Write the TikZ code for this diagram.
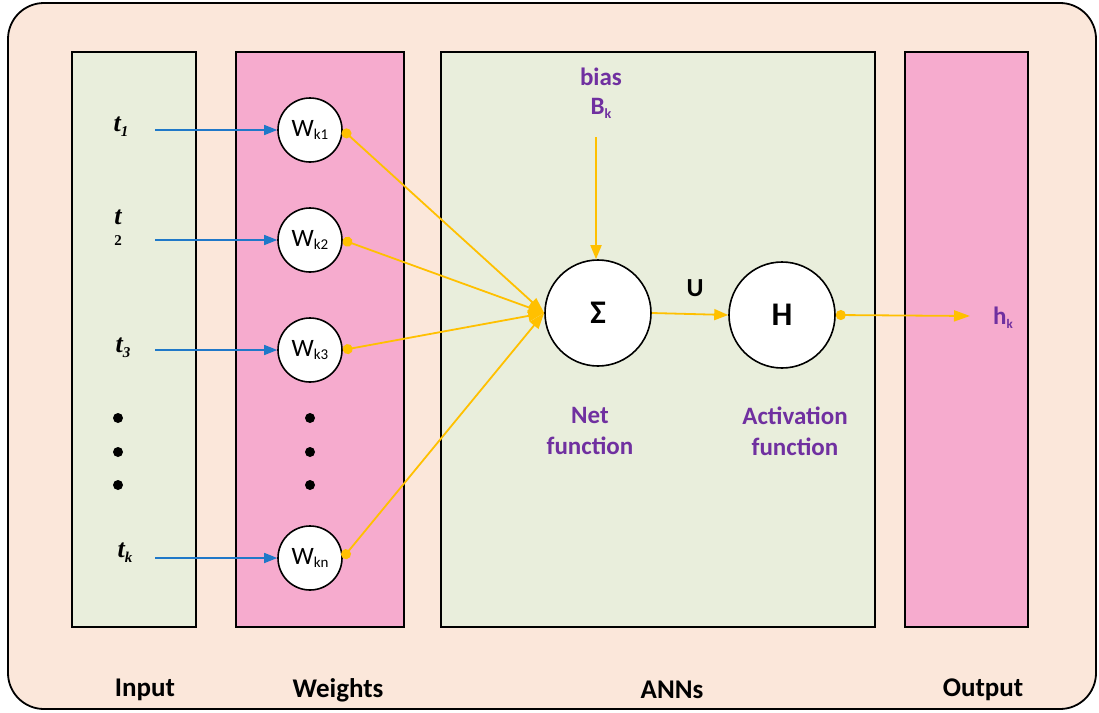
\documentclass[tikz,border=0pt]{standalone}
\usepackage{fontspec}
\setmainfont{Carlito}
\newfontfamily\tfont{Liberation Serif}
\usetikzlibrary{arrows.meta}
\definecolor{peach}{HTML}{FBE7DA}
\definecolor{lgreen}{HTML}{E9EEDC}
\definecolor{lpink}{HTML}{F6ABCE}
\definecolor{orng}{HTML}{FFC000}
\definecolor{blu}{HTML}{1F78C8}
\definecolor{purp}{HTML}{7030A0}
\tikzset{
  col/.style={draw=black, line width=2.2pt},
  wnode/.style={circle, draw=black, fill=white, line width=1.6pt, minimum size=64pt, inner sep=0pt, font=\fontsize{25}{28}\selectfont},
  bignode/.style={circle, draw=black, fill=white, line width=1.6pt, minimum size=106pt, inner sep=0pt, font=\bfseries\fontsize{33}{36}\selectfont},
  tlab/.style={font=\tfont\bfseries\itshape\fontsize{26}{28}\selectfont},
  purptxt/.style={text=purp, font=\bfseries\fontsize{25}{31}\selectfont, align=center},
  botlab/.style={font=\bfseries\fontsize{27}{30}\selectfont},
  bluearrow/.style={draw=blu, line width=1.5pt, -{Triangle[length=13pt,width=10pt]}},
  orarrow/.style={draw=orng, line width=1.8pt, {Circle[length=10pt]}-{Triangle[length=16pt,width=11pt]}},
  dotc/.style={circle, fill=black, inner sep=0pt, minimum size=10pt}
}
\begin{document}
\begin{tikzpicture}[x=1pt,y=-1pt]
\useasboundingbox (0,0) rectangle (1099,712);
% outer frame
\draw[fill=peach, line width=1.8pt, rounded corners=36pt] (8,3) rectangle (1096,709);
% columns
\draw[col, fill=lgreen] (72,52) rectangle (196,627);
\draw[col, fill=lpink] (236,52) rectangle (404,627);
\draw[col, fill=lgreen] (441,52) rectangle (875,627);
\draw[col, fill=lpink] (905,52) rectangle (1028,627);
% bottom labels
\node[botlab] (linput) at (145,690) {Input};
\node[botlab] (lweights) at (338,690) {Weights};
\node[botlab] (lanns) at (672,690) {ANNs};
\node[botlab] (loutput) at (983,690) {Output};
% weight circles
\node[wnode] (w1) at (310,130) {W\raisebox{-0.25ex}{\fontsize{15}{16}\selectfont k1}};
\node[wnode] (w2) at (310,240) {W\raisebox{-0.25ex}{\fontsize{15}{16}\selectfont k2}};
\node[wnode] (w3) at (310,350) {W\raisebox{-0.25ex}{\fontsize{15}{16}\selectfont k3}};
\node[wnode] (wn) at (310,558) {W\raisebox{-0.25ex}{\fontsize{15}{16}\selectfont kn}};
% input labels
\node[tlab] (t1) at (121,127) {t\raisebox{-0.4ex}{\fontsize{15}{16}\selectfont 1}};
\node[tlab, align=center, inner sep=0pt] (t2) at (118,228) {t\\[-7pt]{\fontsize{15}{16}\selectfont\upshape 2}};
\node[tlab] (t3) at (123,348) {t\raisebox{-0.4ex}{\fontsize{15}{16}\selectfont 3}};
\node[tlab] (tk) at (125,553) {t\raisebox{-0.4ex}{\fontsize{15}{16}\selectfont k}};
% dots
\node[dotc] (di1) at (118,418) {};
\node[dotc] (di2) at (118,452) {};
\node[dotc] (di3) at (118,485) {};
\node[dotc] (dw1) at (310,418) {};
\node[dotc] (dw2) at (310,452) {};
\node[dotc] (dw3) at (310,485) {};
% blue arrows
\coordinate (s1) at (155,130);
\coordinate (s2) at (155,240);
\coordinate (s3) at (155,350);
\coordinate (sn) at (155,558);
\draw[bluearrow] (s1) -- (w1.west);
\draw[bluearrow] (s2) -- (w2.west);
\draw[bluearrow] (s3) -- (w3.west);
\draw[bluearrow] (sn) -- (wn.west);
% sum and activation
\node[bignode] (sig) at (598,313) {\raisebox{-0.1ex}{Σ}};
\node[bignode] (hh) at (782,315) {H};
% orange connectors
\draw[orarrow] (w1.east) -- (sig.west);
\draw[orarrow] (w2.east) -- (sig.west);
\draw[orarrow] (w3.east) -- (sig.west);
\draw[orarrow] (wn.east) -- (sig.west);
% bias
\node[purptxt] (bias) at (601,93) {bias\\[-2pt]B\raisebox{-0.3ex}{\fontsize{14}{16}\selectfont k}};
\coordinate (bstart) at (596,137);
\draw[draw=orng, line width=1.8pt, -{Triangle[length=14pt,width=11pt]}] (bstart) -- (sig.north -| bstart);
% sigma to H
\draw[draw=orng, line width=1.8pt, -{Triangle[length=14pt,width=11pt]}] (sig.east) -- (hh.west);
\node[font=\bfseries\fontsize{26}{30}\selectfont] (u) at (695,288) {U};
% output
\node[purptxt] (hk) at (1003,318) {h\raisebox{-0.3ex}{\fontsize{13}{15}\selectfont k}};
\coordinate (hend) at (970,316);
\draw[orarrow] (hh.east) -- (hend);
% captions
\node[purptxt] (net) at (590,431) {Net\\function};
\node[purptxt] (act) at (795,431) {Activation\\function};
\end{tikzpicture}
\end{document}
